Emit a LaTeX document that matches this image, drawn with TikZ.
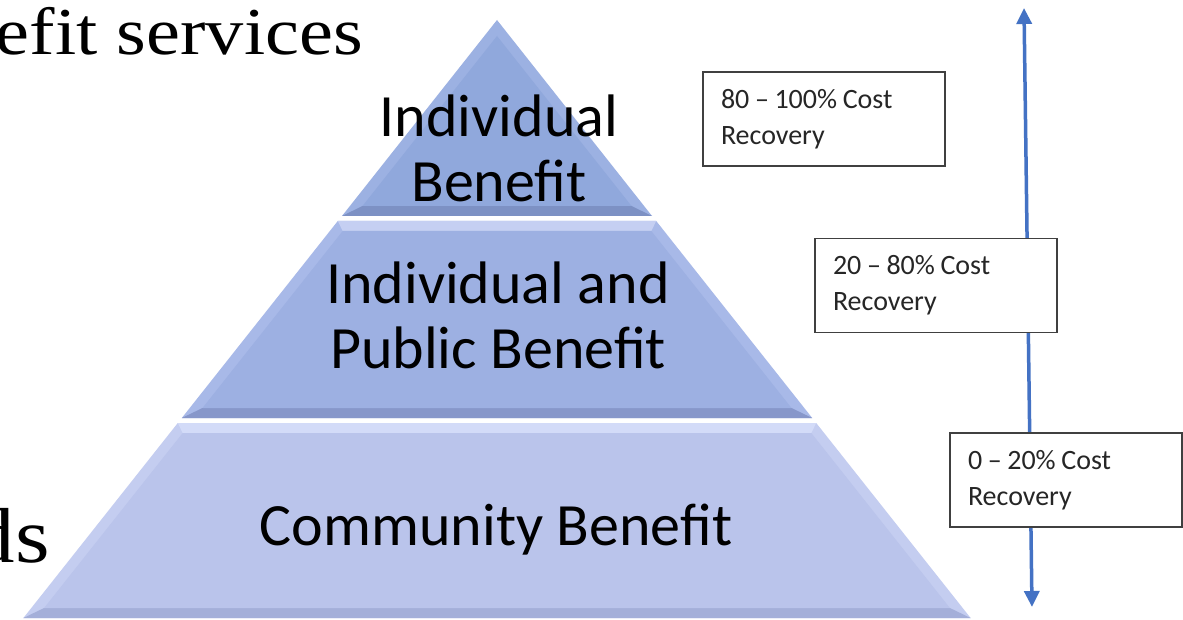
\documentclass[tikz,border=0pt]{standalone}
\usepackage{fontspec}
\setmainfont{Carlito}
\newfontfamily\serifx[FakeStretch=1.14]{Liberation Serif}
\usetikzlibrary{arrows.meta}
\definecolor{arrowblue}{HTML}{4472C4}
\definecolor{boxline}{HTML}{404040}
% layer 1
\definecolor{aside}{HTML}{9CB1E2}
\definecolor{amain}{HTML}{90A8DC}
\definecolor{adark}{HTML}{7D91C4}
% layer 2
\definecolor{bside}{HTML}{A8B9E8}
\definecolor{bmain}{HTML}{9DB0E2}
\definecolor{bdark}{HTML}{8797CA}
\definecolor{blight}{HTML}{C5CFF2}
% layer 3
\definecolor{cside}{HTML}{C4CDF0}
\definecolor{cmain}{HTML}{BAC4EB}
\definecolor{cdark}{HTML}{A4AFD9}
\definecolor{clight}{HTML}{D3DBF8}
\newcommand\tightspaces{\spaceskip=5.6pt plus 0pt minus 0pt\relax}
\tikzset{
  lbl/.style={font=\fontsize{60}{65}\selectfont, align=center, inner sep=0pt, text=black},
  costbox/.style={draw=boxline, line width=1.3pt, fill=white, align=left,
    inner xsep=18pt, inner ysep=0pt, minimum height=94pt,
    font=\fontsize{28}{36}\selectfont, text=black!85,
    execute at begin node=\tightspaces},
  serifbig/.style={inner sep=0pt, text=black},
  arr/.style={draw=arrowblue, line width=3.5pt,
    {Triangle[width=15pt,length=16pt]}-{Triangle[width=15pt,length=16pt]}}
}
\begin{document}
\begin{tikzpicture}[x=1pt,y=-1pt]
\useasboundingbox[fill=white] (0,0) rectangle (1183,620);

% ---------- layer 1 (top triangle)
\fill[aside] (497,20) -- (342,216) -- (652,216) -- cycle;
\fill[adark] (342,216) -- (652,216) -- (631.5,206) -- (362.5,206) -- cycle;
\fill[amain] (497,36) -- (362.5,206) -- (631.5,206) -- cycle;

% ---------- layer 2
\fill[bside] (337.8,221) -- (656.2,221) -- (812.2,418) -- (181.8,418) -- cycle;
\fill[blight] (337.8,221) -- (656.2,221) -- (651.3,231) -- (342.7,231) -- cycle;
\fill[bdark] (181.8,418) -- (812.2,418) -- (791.5,408) -- (202.5,408) -- cycle;
\fill[bmain] (342.7,231) -- (651.3,231) -- (791.5,408) -- (202.5,408) -- cycle;

% ---------- layer 3
\fill[cside] (177.8,423) -- (816.2,423) -- (970.6,618) -- (23.4,618) -- cycle;
\fill[clight] (177.8,423) -- (816.2,423) -- (811.3,433) -- (182.7,433) -- cycle;
\fill[cdark] (23.4,618) -- (970.6,618) -- (949.9,608) -- (44.1,608) -- cycle;
\fill[cmain] (182.7,433) -- (811.3,433) -- (949.9,608) -- (44.1,608) -- cycle;

% ---------- pyramid labels (base = baseline of last line)
\node[lbl, anchor=base] (t1) at (499,202) {Individual\\Benefit};
\node[lbl, anchor=base] (t2) at (498,368) {Individual and\\Public Benefit};
\node[lbl, anchor=base] (t3) at (496,545) {Community Benefit};

% ---------- cut-off serif text
\node[serifbig, anchor=base east, font=\serifx\fontsize{67}{67}\selectfont] (s1) at (363,55) {efit services};
\node[serifbig, anchor=base east, font=\serifx\fontsize{78}{78}\selectfont] (s2) at (50,562) {ds};

% ---------- vertical double arrow
\coordinate (atop) at (1024,8);
\coordinate (abot) at (1032,607);
\draw[arr] (atop) -- (abot);

% ---------- cost recovery boxes
\node[costbox, text width=206pt] (b1) at (824,119) {80 – 100\% Cost\\Recovery};
\node[costbox, text width=206pt] (b2) at (936,285.5) {20 – 80\% Cost\\Recovery};
\node[costbox, text width=196pt] (b3) at (1066,480) {0 – 20\% Cost\\Recovery};
\end{tikzpicture}
\end{document}
